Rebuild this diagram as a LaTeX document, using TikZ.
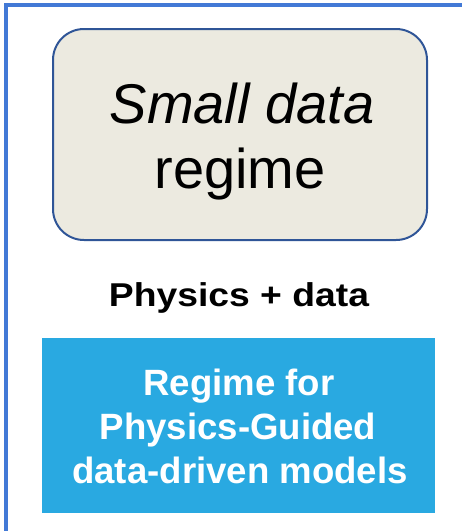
\documentclass[tikz,border=0pt]{standalone}
\usepackage{fontspec}
\setmainfont{Liberation Sans}
\newfontfamily\widefont[FakeStretch=1.13]{Liberation Sans}
\usetikzlibrary{positioning}
\definecolor{framecol}{HTML}{4279D6}
\definecolor{sandcol}{HTML}{ECEAE0}
\definecolor{edgecol}{HTML}{2F5597}
\definecolor{skycol}{HTML}{29A9E1}

\begin{document}
\begin{tikzpicture}[x=1pt,y=-1pt,
  regimebox/.style={draw=edgecol,line width=2pt,fill=sandcol,rounded corners=31pt,
    inner sep=0pt,minimum width=374pt,minimum height=211pt},
  guidedbox/.style={fill=skycol,inner sep=0pt,minimum width=393pt,minimum height=175pt},
  bigtxt/.style={anchor=base,inner sep=0pt,font=\fontsize{56}{65}\selectfont},
  midtxt/.style={anchor=base,inner sep=0pt,font=\widefont\fontsize{33}{40}\selectfont\bfseries},
  boxtxt/.style={anchor=base,inner sep=0pt,text=white,font=\fontsize{36.6}{44}\selectfont\bfseries}]
\useasboundingbox (0,0) rectangle (462,531);
% frame round the panel
\draw[framecol,line width=3.6pt] (6,545) -- (6,5) -- (475,5);

\node[regimebox] (small) at (240,134.5) {};
\draw(242,123) node[bigtxt] (smallA) {\textit{Small data}};
\draw(240,188) node[bigtxt] (smallB) {regime};

\draw(239,306) node[midtxt] (mix) {Physics + data};

\node[guidedbox] (pgdd) at (238.5,425.5) {};
\draw(239,395) node[boxtxt] (pgddA) {Regime for};
\draw(238,439) node[boxtxt] (pgddB) {Physics-Guided};
\draw(240,483) node[boxtxt] (pgddC) {data-driven models};
\end{tikzpicture}
\end{document}
